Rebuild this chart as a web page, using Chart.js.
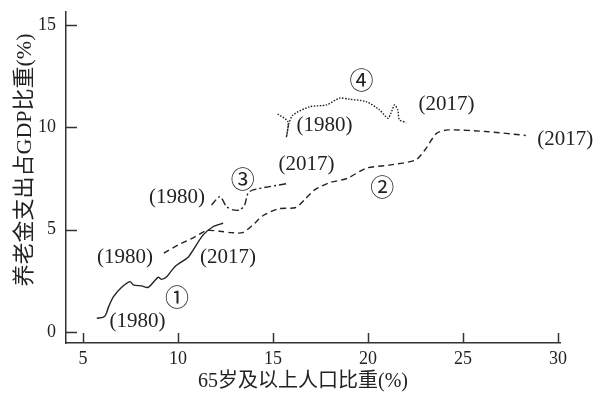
<!DOCTYPE html>
<html><head><meta charset="utf-8">
<script src="https://cdn.jsdelivr.net/npm/chart.js@4/dist/chart.umd.min.js"></script>
<style>html,body{margin:0;padding:0;background:#fff;}</style>
</head><body>
<canvas id="c" width="603" height="401" style="width:603px;height:401px;display:block"></canvas>
<script>
// Axis ticks
const xTicks = [5, 10, 15, 20, 25, 30];
const yTicks = [0, 5, 10, 15];
const xTitle = '65岁及以上人口比重(%)';
const yTitle = '养老金支出占GDP比重(%)';

// Series ① (solid)
const s1x = [5.72, 6.07, 6.2, 6.33, 6.6, 7.03, 7.47, 7.64, 8.08, 8.43, 8.95, 9.13, 9.4, 9.83, 10.53, 10.79, 11.32, 11.84, 12.37];
const s1y = [0.67, 0.72, 0.85, 1.2, 1.72, 2.18, 2.46, 2.3, 2.25, 2.18, 2.67, 2.57, 2.7, 3.19, 3.65, 4.0, 4.74, 5.14, 5.31];
// Series ② (dashed)
const s2x = [9.25, 10.0, 10.8, 11.5, 12.2, 12.8, 13.4, 13.9, 14.5, 15.3, 16.2, 16.7, 17.2, 18.0, 18.9, 19.9, 21.1, 22.5, 23.0, 23.6, 24.2, 26.2, 28.3];
const s2y = [3.85, 4.25, 4.6, 4.95, 4.92, 4.85, 4.85, 5.2, 5.7, 6.02, 6.08, 6.5, 6.95, 7.3, 7.5, 8.0, 8.15, 8.4, 8.9, 9.7, 9.87, 9.79, 9.6];
// Series ③ (dash-dot)
const s3x = [11.76, 12.2, 12.55, 12.9, 13.25, 13.5, 13.68, 13.95, 14.82, 15.8];
const s3y = [6.2, 6.61, 6.12, 5.96, 5.96, 6.2, 6.78, 6.94, 7.1, 7.26];
// Series ④ (dotted)
const s4x = [15.24, 15.78, 15.7, 15.84, 16.05, 16.92, 17.8, 18.5, 19.02, 19.9, 20.6, 21.04, 21.2, 21.39, 21.56, 21.65, 22.0];
const s4y = [10.65, 10.27, 9.51, 10.2, 10.6, 11.0, 11.09, 11.42, 11.37, 11.25, 10.85, 10.44, 10.68, 11.09, 10.85, 10.36, 10.24];

// Annotations
const labelText = ['(1980)', '(2017)', '①', '(1980)', '②', '(2017)', '(1980)', '③', '(2017)', '④', '(1980)', '(2017)'];
const labelX = [7.86, 12.62, 9.94, 7.2, 20.75, 30.37, 9.94, 13.4, 16.76, 19.65, 17.7, 24.12];
const labelY = [0.49, 3.62, 1.71, 3.66, 7.08, 9.38, 6.55, 7.47, 8.16, 12.31, 10.1, 11.09];

const pts = (xs, ys) => xs.map((x, i) => ({x: x, y: ys[i]}));
const INK = '#222';
const SERIF = '"Liberation Serif", "Noto Sans CJK SC", serif';

const decor = {
  id: 'decor',
  afterDraw(chart) {
    const ctx = chart.ctx, xs = chart.scales.x, ys = chart.scales.y, a = chart.chartArea;
    ctx.save();
    ctx.strokeStyle = '#333';
    ctx.lineWidth = 1.5;
    ctx.setLineDash([]);
    xTicks.forEach(v => {
      const px = Math.round(xs.getPixelForValue(v)) + 0.5;
      ctx.beginPath(); ctx.moveTo(px, a.bottom); ctx.lineTo(px, a.bottom - 10); ctx.stroke();
    });
    yTicks.forEach(v => {
      const py = Math.round(ys.getPixelForValue(v)) + 0.5;
      ctx.beginPath(); ctx.moveTo(a.left, py); ctx.lineTo(a.left + 11, py); ctx.stroke();
    });
    ctx.fillStyle = INK;
    ctx.textAlign = 'center';
    ctx.textBaseline = 'middle';
    labelText.forEach((t, i) => {
      const circ = /[①②③④]/.test(t);
      ctx.font = circ ? '24px "Noto Sans CJK SC", "DejaVu Sans"' : '21px ' + SERIF;
      ctx.fillText(t, xs.getPixelForValue(labelX[i]), ys.getPixelForValue(labelY[i]));
    });
    // axis titles
    ctx.font = '20px ' + SERIF;
    ctx.fillText(xTitle, 303, 382);
    ctx.translate(25, 160);
    ctx.rotate(-Math.PI / 2);
    ctx.font = '22px ' + SERIF;
    ctx.fillText(yTitle, 0, 0);
    ctx.restore();
  }
};

const base = {showLine: true, pointRadius: 0, borderColor: INK, borderWidth: 1.4, tension: 0.25, fill: false};

new Chart(document.getElementById('c'), {
  type: 'scatter',
  data: {
    datasets: [
      Object.assign({label: '①', data: pts(s1x, s1y)}, base),
      Object.assign({label: '②', data: pts(s2x, s2y), borderDash: [6, 4]}, base),
      Object.assign({label: '③', data: pts(s3x, s3y), borderDash: [7, 3, 2, 3]}, base),
      Object.assign({label: '④', data: pts(s4x, s4y), borderDash: [1.5, 1.5], borderWidth: 1.5}, base)
    ]
  },
  options: {
    responsive: false,
    animation: false,
    devicePixelRatio: 1,
    layout: {padding: {top: 12, right: 43, left: 0, bottom: 0}},
    plugins: {legend: {display: false}, tooltip: {enabled: false}},
    scales: {
      x: {
        type: 'linear', min: 4.1, max: 30.1,
        afterBuildTicks: s => { s.ticks = xTicks.map(v => ({value: v})); },
        afterFit: s => { s.height = 58; s.paddingLeft = 0; s.paddingRight = 0; },
        grid: {display: false, drawTicks: false},
        border: {display: true, color: '#333', width: 1.5},
        ticks: {color: INK, font: {family: SERIF, size: 18}, padding: 5, maxRotation: 0}
      },
      y: {
        type: 'linear', min: -0.54, max: 15.63,
        afterBuildTicks: s => { s.ticks = yTicks.map(v => ({value: v})); },
        afterFit: s => { s.width = 66; s.paddingTop = 0; s.paddingBottom = 0; },
        grid: {display: false, drawTicks: false},
        border: {display: true, color: '#333', width: 1.5},
        ticks: {color: INK, font: {family: SERIF, size: 18}, padding: 10}
      }
    }
  },
  plugins: [decor]
});
</script>
</body></html>
